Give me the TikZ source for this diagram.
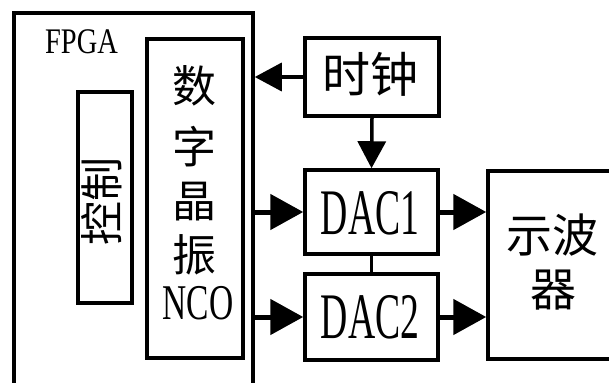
\documentclass[tikz,border=0pt]{standalone}
\usepackage{fontspec}
\setmainfont{Liberation Serif}
\newfontfamily\cjk{Noto Sans CJK SC}
\usetikzlibrary{arrows.meta}
\newcommand\latx[3]{\scalebox{#1}[1]{\fontsize{#2}{#2}\selectfont #3}}
\tikzset{
  blk/.style={draw, line width=3.5pt, inner sep=0pt, line join=miter},
  lbl/.style={inner sep=0pt, anchor=center},
  cj/.style={lbl, font=\cjk\fontsize{#1}{#1}\selectfont},
  bigarrow/.style={line width=5pt, line cap=round, -{Triangle[length=33pt,width=35pt]}},
  thinarrow/.style={line width=3.5pt, -{Triangle[length=27pt,width=28pt]}},
  link/.style={line width=3.5pt}
}
\begin{document}
\begin{tikzpicture}[x=1pt,y=-1pt]
\useasboundingbox (0,0) rectangle (609,382);
\clip (0,0) rectangle (609,382);
\fill[white] (0,0) rectangle (609,382);
% boxes
\node[blk, minimum width=239pt, minimum height=400pt] (fpga) at (133.5,213) {};
\node[blk, minimum width=96pt, minimum height=319pt] (nco) at (195,198.5) {};
\node[blk, minimum width=54pt, minimum height=211pt] (ctrl) at (105,197.5) {};
\node[blk, minimum width=134pt, minimum height=78pt] (clock) at (372,77) {};
\node[blk, minimum width=133pt, minimum height=84pt] (dac1) at (371.5,212) {};
\node[blk, minimum width=133pt, minimum height=86pt] (dac2) at (371.5,317) {};
\node[blk, minimum width=152pt, minimum height=188pt] (scope) at (564,265) {};
% labels
\node[lbl] (tfpga) at (81.5,42) {\latx{0.79}{36}{FPGA}};
\node[cj=44, rotate=90] (tctrl) at (102,201) {控制};
\node[cj=44] (t1) at (194,86) {数};
\node[cj=44] (t2) at (194,147) {字};
\node[cj=44] (t3) at (194,202) {晶};
\node[cj=44] (t4) at (194,255) {振};
\node[lbl] (tnco) at (198,303.5) {\latx{0.67}{50}{NCO}};
\node[cj=48] (tclock) at (370,74) {时钟};
\node[lbl] (tdac1) at (370,213.5) {\latx{0.58}{65}{DAC1}};
\node[lbl] (tdac2) at (370,317) {\latx{0.58}{65}{DAC2}};
\node[cj=46] (tscope1) at (552,235) {示波};
\node[cj=46] (tscope2) at (553,290) {器};
% connectors
\draw[thinarrow] (clock.west) -- (clock.west -| fpga.east);
\draw[thinarrow] (clock.south) -- (dac1.north);
\draw[link] (dac1.south) -- (dac2.north);
\draw[bigarrow] (dac1.west -| fpga.east) -- (dac1.west);
\draw[bigarrow] (dac2.west -| fpga.east) -- (dac2.west);
\draw[bigarrow] (dac1.east) -- (dac1.east -| scope.west);
\draw[bigarrow] (dac2.east) -- (dac2.east -| scope.west);
\end{tikzpicture}
\end{document}
